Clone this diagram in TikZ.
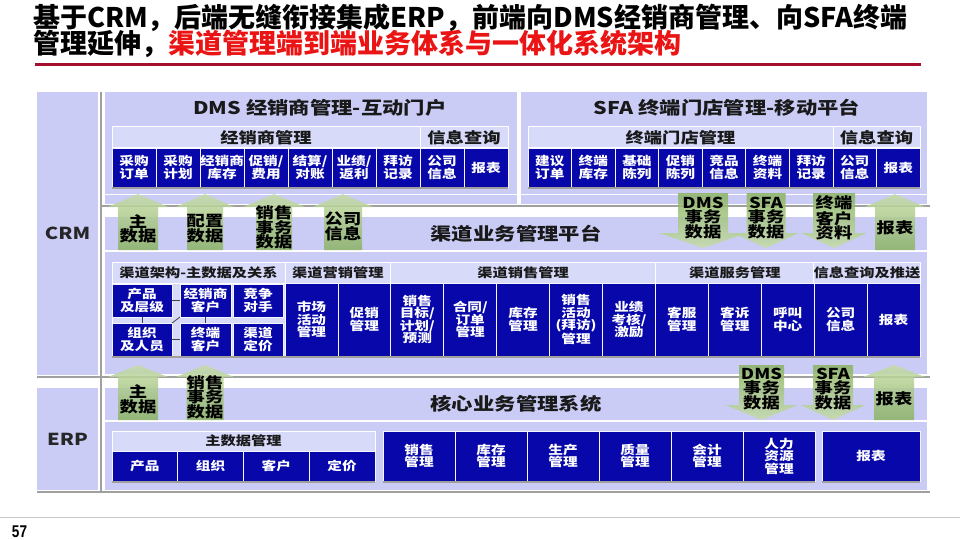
\documentclass[tikz,border=0pt]{standalone}
\usepackage{fontspec}
\setmainfont{Noto Sans CJK SC}
\newfontfamily\dg{Noto Sans CJK SC}[FakeStretch=1.22]
\newfontfamily\nf{Liberation Sans}[FakeStretch=0.8]
\usetikzlibrary{calc}
\definecolor{lav}{RGB}{202,204,246}
\definecolor{lavh}{RGB}{216,218,250}
\definecolor{dblue}{RGB}{8,8,170}
\definecolor{tred}{RGB}{235,20,20}
\definecolor{dred}{RGB}{163,15,45}
\definecolor{glc}{RGB}{160,160,160}
\definecolor{aglight}{RGB}{198,220,168}
\definecolor{agdark}{RGB}{138,178,98}
\tikzset{
 base/.style={inner sep=0pt, outer sep=0pt},
 panel/.style={base, fill=lav},
 band/.style={base, fill=lav, text=black!90, font=\dg\bfseries\fontsize{17.5}{18}\selectfont},
 side/.style={base, fill=lav, text=black!85, font=\dg\bfseries\fontsize{16.5}{17}\selectfont},
 hdr/.style={base, fill=lavh, draw=white, line width=1pt, text=black!90, font=\dg\bfseries\fontsize{15}{15}\selectfont},
 hdrs/.style={hdr, font=\dg\bfseries\fontsize{12.5}{13}\selectfont},
 cell/.style={base, fill=dblue, draw=white!80!lav, line width=0.8pt, text=white, align=center, font=\dg\bfseries\fontsize{12}{12.5}\selectfont},
 ptitle/.style={base, text=black!90, font=\dg\bfseries\fontsize{17.5}{18}\selectfont},
 atext/.style={base, text=black, align=center, font=\dg\bfseries\fontsize{15}{14.5}\selectfont},
 uarrow/.style={top color=aglight, bottom color=agdark, draw=none, fill opacity=0.85},
 darrow/.style={top color=agdark, bottom color=aglight, draw=none, fill opacity=0.85},
 gl/.style={draw=glc, line width=2pt},
 shadowl/.style={draw=gray!75, line width=1.2pt},
 link/.style={draw=black!75, line width=0.8pt},
 ttl/.style={base, anchor=west, font=\bfseries\fontsize{27}{28}\selectfont},
}
\newcommand\bx[7]{\node[#1, minimum width={((#4)-(#2))*1pt}, minimum height={((#5)-(#3))*1pt}] (#6) at ({((#2)+(#4))/2},{((#3)+(#5))/2}) {#7};}
\newcommand\uarr[6]{\path[uarrow] ({#1-#2},#6) -- ({#1-#2},#5) -- ({#1-#3},#5) -- (#1,#4) -- ({#1+#3},#5) -- ({#1+#2},#5) -- ({#1+#2},#6) -- cycle;}
\newcommand\darr[6]{\path[darrow] ({#1-#2},#4) -- ({#1-#2},#5) -- ({#1-#3},#5) -- (#1,#6) -- ({#1+#3},#5) -- ({#1+#2},#5) -- ({#1+#2},#4) -- cycle;}
\begin{document}
\begin{tikzpicture}[x=1pt,y=-1pt]
\useasboundingbox (0,0) rectangle (960,540);
\fill[white] (0,0) rectangle (960,540);
% title
\node[ttl] (t1) at (33,18) {基于CRM，后端无缝衔接集成ERP，前端向DMS经销商管理、向SFA终端};
\node[ttl] (t2) at (33,44) {管理延伸，\textcolor{tred}{渠道管理端到端业务体系与一体化系统架构}};
\draw[dred, line width=3pt] (35,64.5) -- (921,64.5);
% side panels
\bx{side}{37}{92}{98}{375}{crm}{CRM}
\bx{side}{37}{388}{98}{490}{erp}{ERP}
% top panels
\bx{panel}{105}{92}{517}{204}{dms}{}
\bx{panel}{521}{92}{927}{204}{sfa}{}
\draw[white, line width=0.8pt] (105,194) -- (517,194) (521,194) -- (927,194);
\node[ptitle] (dmst) at (320,108) {DMS 经销商管理-互动门户};
\node[ptitle] (sfat) at (727,108) {SFA 终端门店管理-移动平台};
\bx{hdr}{112}{127}{420}{148}{dh1}{经销商管理}
\bx{hdr}{420}{127}{508}{148}{dh2}{信息查询}
\foreach \t [count=\i from 0] in {{采购\\订单},{采购\\计划},{经销商\\库存},{促销/\\费用},{结算/\\对账},{业绩/\\返利},{拜访\\记录},{公司\\信息},{报表}}{
  \bx{cell}{112+\i*44}{148}{112+\i*44+44}{187}{dc\i}{\t}
}
\bx{hdr}{528}{127}{833}{148}{sh1}{终端门店管理}
\bx{hdr}{833}{127}{920}{148}{sh2}{信息查询}
\foreach \t [count=\i from 0] in {{建议\\订单},{终端\\库存},{基础\\陈列},{促销\\陈列},{竞品\\信息},{终端\\资料},{拜访\\记录},{公司\\信息},{报表}}{
  \bx{cell}{528+\i*43.56}{148}{528+\i*43.56+43.56}{187}{sc\i}{\t}
}
\draw[shadowl] ([yshift=-1pt]dc0.south west) -- ([yshift=-1pt]dc8.south east);
\draw[shadowl] ([yshift=-1pt]sc0.south west) -- ([yshift=-1pt]sc8.south east);
% platform band
\bx{band}{105}{217}{927}{250}{plat}{渠道业务管理平台}
\bx{panel}{105}{252}{927}{374}{lowp}{}
\bx{hdrs}{112}{262}{285}{283}{lh1}{渠道架构-主数据及关系}
\bx{hdrs}{112}{283}{285}{357}{lgrp}{}
\bx{hdrs}{285}{262}{390.8}{283}{lh2}{渠道营销管理}
\bx{hdrs}{390.8}{262}{655.4}{283}{lh3}{渠道销售管理}
\bx{hdrs}{655.4}{262}{814.2}{283}{lh4}{渠道服务管理}
\bx{hdrs}{814.2}{262}{920}{283}{lh5}{信息查询及推送}
\bx{cell}{112}{284}{172}{317}{cp}{产品\\及层级}
\bx{cell}{112}{323}{172}{356}{cz}{组织\\及人员}
\bx{cell}{180}{284}{231}{317}{cj}{经销商\\客户}
\bx{cell}{233}{284}{283}{317}{cc}{竞争\\对手}
\bx{cell}{180}{323}{231}{356}{ct}{终端\\客户}
\bx{cell}{233}{323}{283}{356}{cd}{渠道\\定价}
\draw[link] (cp.east) -- (cj.west);
\draw[link] (cz.east) -- (ct.west);
\draw[link] (cp.south) -- (cz.north);
\draw[link] (cj.south) -- (ct.north);
\draw[link] (cz.north east) -- (cj.south west);
\foreach \t [count=\i from 0] in {{市场\\活动\\管理},{促销\\管理},{销售\\目标/\\计划/\\预测},{合同/\\订单\\管理},{库存\\管理},{销售\\活动\\(拜访)\\管理},{业绩\\考核/\\激励},{客服\\管理},{客诉\\管理},{呼叫\\中心},{公司\\信息},{报表}}{
  \bx{cell}{285+\i*52.917}{283}{285+\i*52.917+52.917}{356}{lc\i}{\t}
}
\draw[shadowl] ([yshift=-1pt]cz.south west) -- ([yshift=-1pt]lc11.south east);
% ERP
\bx{band}{105}{388}{927}{420}{core}{核心业务管理系统}
\bx{panel}{105}{422}{927}{490}{erpp}{}
\bx{hdrs}{112}{431}{375}{451}{mh}{主数据管理}
\foreach \t [count=\i from 0] in {产品,组织,客户,定价}{
  \bx{cell}{112+\i*65.75}{451}{112+\i*65.75+65.75}{481}{mc\i}{\t}
}
\foreach \t [count=\i from 0] in {{销售\\管理},{库存\\管理},{生产\\管理},{质量\\管理},{会计\\管理},{人力\\资源\\管理}}{
  \bx{cell}{383+\i*72}{431}{383+\i*72+72}{481}{ec\i}{\t}
}
\bx{cell}{822}{431}{920}{481}{erep}{报表}
\draw[shadowl] ([yshift=-1pt]mc0.south west) -- ([yshift=-1pt]mc3.south east);
\draw[shadowl] ([yshift=-1pt]ec0.south west) -- ([yshift=-1pt]ec5.south east);
\draw[shadowl] ([yshift=-1pt]erep.south west) -- ([yshift=-1pt]erep.south east);
% gray separators
\draw[gl] (101,92) -- (101,493);
\draw[gl] (101,205.5) -- (930,205.5);
\draw[gl] (37,376.5) -- (930,376.5);
\draw[gl] (37,492) -- (930,492);
% arrows CRM
\uarr{138}{20}{30}{194}{207}{250}
\uarr{205}{18}{29}{194}{207}{250}
\uarr{274}{18}{31}{194}{207}{250}
\uarr{343}{19}{30}{194}{207}{250}
\uarr{895}{20}{30}{194}{207}{250}
\darr{703}{25}{44}{193}{233}{248}
\darr{766}{19.5}{33}{193}{233}{248}
\darr{834}{21}{33}{193}{233}{248}
\node[atext] (a1) at (138,229) {主\\数据};
\node[atext] (a2) at (205,228.5) {配置\\数据};
\node[atext] (a3) at (274,227.5) {销售\\事务\\数据};
\node[atext] (a4) at (343,226.5) {公司\\信息};
\node[atext] (a5) at (895,228) {报表};
\node[atext] (a6) at (703,218) {DMS\\事务\\数据};
\node[atext] (a7) at (766,218) {SFA\\事务\\数据};
\node[atext] (a8) at (834,218) {终端\\客户\\资料};
% arrows ERP
\uarr{138}{20}{30}{365}{377}{420}
\uarr{205}{18.5}{29}{365}{377}{420}
\darr{761.5}{22.5}{36}{365}{405}{420}
\darr{833}{20}{32.5}{365}{405}{420}
\uarr{894}{20}{31}{365}{377}{420}
\node[atext] (b1) at (138,399.5) {主\\数据};
\node[atext] (b2) at (205,397) {销售\\事务\\数据};
\node[atext] (b3) at (761.5,389) {DMS\\事务\\数据};
\node[atext] (b4) at (833,389) {SFA\\事务\\数据};
\node[atext] (b5) at (894,399) {报表};
% footer
\draw[gray!45, line width=1pt] (0,517) -- (960,517);
\node[base, anchor=west, font=\nf\bfseries\fontsize{17}{17}\selectfont] (pg) at (12,532) {57};
\end{tikzpicture}
\end{document}
